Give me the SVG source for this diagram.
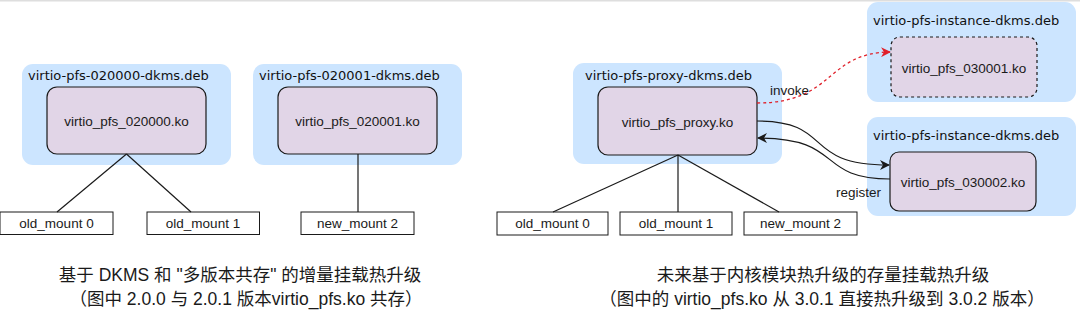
<svg xmlns="http://www.w3.org/2000/svg" width="1080" height="313" viewBox="0 0 1080 313">
<style>
.bg{fill:#ffffff}
.cont{fill:#cce5ff;stroke:none}
.ko{fill:#e1d5e7;stroke:#1a1a1a;stroke-width:1.2}
.kod{fill:#e1d5e7;stroke:#1a1a1a;stroke-width:1.2;stroke-dasharray:3 3}
.mnt{fill:#ffffff;stroke:#1a1a1a;stroke-width:1}
.t{font-family:"Liberation Sans","Noto Sans",sans-serif;font-size:13.5px;fill:#1a1a1a;text-anchor:middle}
.tl{font-family:"Liberation Sans","Noto Sans",sans-serif;font-size:13.5px;fill:#1a1a1a}
.ttl{font-family:"DejaVu Sans",sans-serif;font-size:13px;fill:#111}
.cap{font-family:"Liberation Sans","Noto Sans CJK SC",sans-serif;font-size:17.5px;fill:#1a1a1a;text-anchor:middle}
.ln{stroke:#1a1a1a;stroke-width:1.2;fill:none}
.red{stroke:#e0202a;stroke-width:1.3;fill:none;stroke-dasharray:3 3}
</style>
<defs>
<marker id="ab" markerWidth="10" markerHeight="10" refX="9" refY="5" orient="auto" markerUnits="userSpaceOnUse">
<path d="M0,0 L10,5 L0,10 L3,5 Z" fill="#1a1a1a"/>
</marker>
<marker id="ar" markerWidth="10" markerHeight="10" refX="9" refY="5" orient="auto" markerUnits="userSpaceOnUse">
<path d="M0,0 L10,5 L0,10 L3,5 Z" fill="#e0202a"/>
</marker>
</defs>
<rect class="bg" x="0" y="0" width="1080" height="313"/>
<rect x="0" y="0" width="1080" height="1.5" fill="#dedede"/>

<g id="pkg-020000">
<rect class="cont" x="22" y="64" width="209" height="101" rx="11"/>
<text class="ttl" x="28" y="80">virtio-pfs-020000-dkms.deb</text>
</g>
<g id="ko-020000">
<rect class="ko" x="47" y="87" width="159" height="67" rx="10"/>
<text class="t" x="126.5" y="126">virtio_pfs_020000.ko</text>
</g>
<g id="pkg-020001">
<rect class="cont" x="253" y="64" width="209" height="101" rx="11"/>
<text class="ttl" x="259" y="80">virtio-pfs-020001-dkms.deb</text>
</g>
<g id="ko-020001">
<rect class="ko" x="278" y="87" width="159" height="67" rx="10"/>
<text class="t" x="357.5" y="126">virtio_pfs_020001.ko</text>
</g>
<g id="left-old0">
<rect class="mnt" x="0" y="212" width="113" height="22.5"/>
<text class="t" x="56.5" y="228">old_mount 0</text>
</g>
<g id="left-old1">
<rect class="mnt" x="147" y="212" width="112.5" height="22.5"/>
<text class="t" x="203" y="228">old_mount 1</text>
</g>
<g id="left-new2">
<rect class="mnt" x="301" y="212" width="113" height="22.5"/>
<text class="t" x="357.5" y="228">new_mount 2</text>
</g>

<g id="pkg-proxy">
<rect class="cont" x="573" y="63" width="209" height="101" rx="11"/>
<text class="ttl" x="585" y="80">virtio-pfs-proxy-dkms.deb</text>
</g>
<g id="ko-proxy">
<rect class="ko" x="598" y="87" width="159" height="68" rx="10"/>
<text class="t" x="677.5" y="127">virtio_pfs_proxy.ko</text>
</g>
<g id="right-old0">
<rect class="mnt" x="497" y="212" width="111" height="23"/>
<text class="t" x="552.5" y="228">old_mount 0</text>
</g>
<g id="right-old1">
<rect class="mnt" x="620" y="212" width="112" height="23"/>
<text class="t" x="676" y="228">old_mount 1</text>
</g>
<g id="right-new2">
<rect class="mnt" x="744" y="212" width="113" height="23"/>
<text class="t" x="800.5" y="228">new_mount 2</text>
</g>

<g id="pkg-instance-1">
<rect class="cont" x="867" y="2" width="209" height="100" rx="11"/>
<text class="ttl" x="873" y="25">virtio-pfs-instance-dkms.deb</text>
</g>
<g id="ko-030001">
<rect class="kod" x="891" y="37" width="146" height="60" rx="9"/>
<text class="t" x="964" y="73">virtio_pfs_030001.ko</text>
</g>
<g id="pkg-instance-2">
<rect class="cont" x="867" y="117" width="209" height="99" rx="11"/>
<text class="ttl" x="873" y="140">virtio-pfs-instance-dkms.deb</text>
</g>
<g id="ko-030002">
<rect class="ko" x="890" y="152" width="146" height="59" rx="9"/>
<text class="t" x="963" y="187">virtio_pfs_030002.ko</text>
</g>

<g id="connectors">
<line class="ln" x1="126.5" y1="154" x2="57" y2="212"/>
<line class="ln" x1="126.5" y1="154" x2="191" y2="212"/>
<line class="ln" x1="358" y1="154" x2="358" y2="212"/>
<line class="ln" x1="678" y1="155" x2="553" y2="212"/>
<line class="ln" x1="678" y1="155" x2="678" y2="212"/>
<line class="ln" x1="678" y1="155" x2="779" y2="212"/>
<path class="red" d="M757,103 C835,103 825,53 890,52" marker-end="url(#ar)"/>
<path class="ln" d="M757,121 C835,121 800,165 889,165" marker-end="url(#ab)"/>
<path class="ln" d="M890,179 C815,179 845,138 758,138" marker-end="url(#ab)"/>
<text class="tl" x="770" y="95">invoke</text>
<text class="tl" x="836" y="197">register</text>
</g>

<g id="captions">
<text class="cap" x="240" y="281">基于 DKMS 和 "多版本共存" 的增量挂载热升级</text>
<text class="cap" x="246" y="305">（图中 2.0.0 与 2.0.1 版本virtio_pfs.ko 共存）</text>
<text class="cap" x="823" y="281">未来基于内核模块热升级的存量挂载热升级</text>
<text class="cap" x="822" y="305">（图中的 virtio_pfs.ko 从 3.0.1 直接热升级到 3.0.2 版本）</text>
</g>
</svg>
